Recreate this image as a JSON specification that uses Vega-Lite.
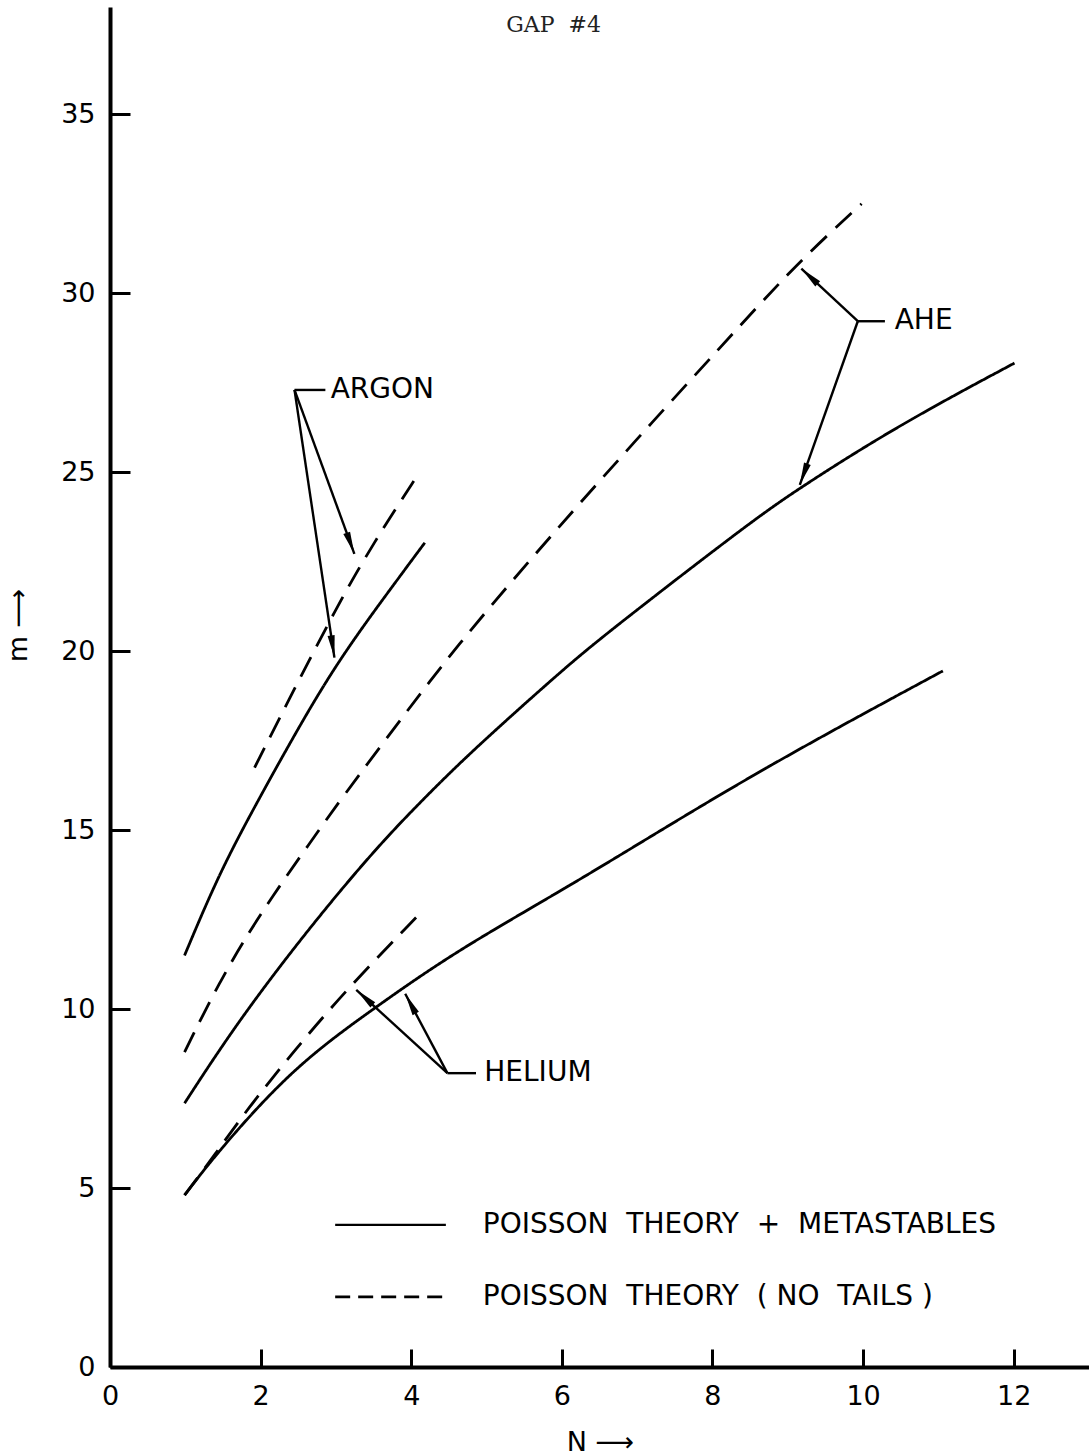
{
  "$schema": "https://vega.github.io/schema/vega-lite/v6.json",
  "width": 979,
  "height": 1360,
  "autosize": {"type": "none"},
  "padding": {"left": 110, "top": 7, "right": 0, "bottom": 89},
  "background": "white",
  "config": {"view": {"stroke": null}, "font": "DejaVu Sans"},
  "datasets": {
    "curves": [
      {"gas": "Argon", "kind": "metastables", "N": 0.99, "m": 11.5},
      {"gas": "Argon", "kind": "metastables", "N": 1.46, "m": 13.85},
      {"gas": "Argon", "kind": "metastables", "N": 1.99, "m": 15.92},
      {"gas": "Argon", "kind": "metastables", "N": 2.34, "m": 17.25},
      {"gas": "Argon", "kind": "metastables", "N": 2.98, "m": 19.6},
      {"gas": "Argon", "kind": "metastables", "N": 3.77, "m": 21.87},
      {"gas": "Argon", "kind": "metastables", "N": 4.18, "m": 23.03},
      {"gas": "Argon", "kind": "notails", "N": 1.92, "m": 16.75},
      {"gas": "Argon", "kind": "notails", "N": 2.34, "m": 18.5},
      {"gas": "Argon", "kind": "notails", "N": 3.0, "m": 21.2},
      {"gas": "Argon", "kind": "notails", "N": 3.49, "m": 23.0},
      {"gas": "Argon", "kind": "notails", "N": 4.11, "m": 25.0},
      {"gas": "AHe", "kind": "notails", "N": 0.99, "m": 8.8},
      {"gas": "AHe", "kind": "notails", "N": 1.46, "m": 10.8},
      {"gas": "AHe", "kind": "notails", "N": 1.99, "m": 12.66},
      {"gas": "AHe", "kind": "notails", "N": 2.69, "m": 14.75},
      {"gas": "AHe", "kind": "notails", "N": 3.05, "m": 15.82},
      {"gas": "AHe", "kind": "notails", "N": 3.93, "m": 18.29},
      {"gas": "AHe", "kind": "notails", "N": 4.59, "m": 20.1},
      {"gas": "AHe", "kind": "notails", "N": 5.56, "m": 22.52},
      {"gas": "AHe", "kind": "notails", "N": 6.93, "m": 25.78},
      {"gas": "AHe", "kind": "notails", "N": 8.48, "m": 29.36},
      {"gas": "AHe", "kind": "notails", "N": 9.18, "m": 30.95},
      {"gas": "AHe", "kind": "notails", "N": 9.98, "m": 32.5},
      {"gas": "AHe", "kind": "metastables", "N": 0.99, "m": 7.37},
      {"gas": "AHe", "kind": "metastables", "N": 1.68, "m": 9.6},
      {"gas": "AHe", "kind": "metastables", "N": 2.6, "m": 12.15},
      {"gas": "AHe", "kind": "metastables", "N": 3.49, "m": 14.4},
      {"gas": "AHe", "kind": "metastables", "N": 4.15, "m": 15.85},
      {"gas": "AHe", "kind": "metastables", "N": 4.81, "m": 17.22},
      {"gas": "AHe", "kind": "metastables", "N": 6.0, "m": 19.46},
      {"gas": "AHe", "kind": "metastables", "N": 6.58, "m": 20.48},
      {"gas": "AHe", "kind": "metastables", "N": 8.48, "m": 23.57},
      {"gas": "AHe", "kind": "metastables", "N": 9.16, "m": 24.57},
      {"gas": "AHe", "kind": "metastables", "N": 10.5, "m": 26.35},
      {"gas": "AHe", "kind": "metastables", "N": 12.01, "m": 28.05},
      {"gas": "Helium", "kind": "metastables", "N": 0.99, "m": 4.8},
      {"gas": "Helium", "kind": "metastables", "N": 1.41, "m": 5.96},
      {"gas": "Helium", "kind": "metastables", "N": 2.43, "m": 8.38},
      {"gas": "Helium", "kind": "metastables", "N": 3.53, "m": 10.06},
      {"gas": "Helium", "kind": "metastables", "N": 4.64, "m": 11.69},
      {"gas": "Helium", "kind": "metastables", "N": 6.31, "m": 13.68},
      {"gas": "Helium", "kind": "metastables", "N": 8.48, "m": 16.52},
      {"gas": "Helium", "kind": "metastables", "N": 11.06, "m": 19.45},
      {"gas": "Helium", "kind": "notails", "N": 0.99, "m": 4.8},
      {"gas": "Helium", "kind": "notails", "N": 1.41, "m": 5.98},
      {"gas": "Helium", "kind": "notails", "N": 1.81, "m": 7.17},
      {"gas": "Helium", "kind": "notails", "N": 2.47, "m": 8.9},
      {"gas": "Helium", "kind": "notails", "N": 3.13, "m": 10.52},
      {"gas": "Helium", "kind": "notails", "N": 4.11, "m": 12.66}
    ],
    "segs": [
      {"N": 2.45, "m": 27.3, "N2": 3.245, "m2": 22.72},
      {"N": 2.45, "m": 27.3, "N2": 2.98, "m2": 19.82},
      {"N": 2.45, "m": 27.3, "N2": 2.86, "m2": 27.3},
      {"N": 9.93, "m": 29.22, "N2": 9.18, "m2": 30.69},
      {"N": 9.93, "m": 29.22, "N2": 9.16, "m2": 24.65},
      {"N": 9.93, "m": 29.22, "N2": 10.29, "m2": 29.22},
      {"N": 4.48, "m": 8.21, "N2": 3.27, "m2": 10.54},
      {"N": 4.48, "m": 8.21, "N2": 3.92, "m2": 10.43},
      {"N": 4.48, "m": 8.21, "N2": 4.86, "m2": 8.21},
      {"N": 2.99, "m": 3.97, "N2": 4.46, "m2": 3.97}
    ],
    "dashseg": [
      {"N": 2.99, "m": 1.96, "N2": 4.46, "m2": 1.96}
    ],
    "heads": [
      {"arrow": "argon1", "N": 3.245, "m": 22.72},
      {"arrow": "argon2", "N": 2.98, "m": 19.82},
      {"arrow": "ahe1", "N": 9.18, "m": 30.69},
      {"arrow": "ahe2", "N": 9.16, "m": 24.65},
      {"arrow": "he1", "N": 3.27, "m": 10.54},
      {"arrow": "he2", "N": 3.92, "m": 10.43}
    ],
    "labels": [
      {"label": "ARGON", "N": 2.93, "m": 27.3},
      {"label": "AHE", "N": 10.42, "m": 29.22},
      {"label": "HELIUM", "N": 4.97, "m": 8.21},
      {"label": "POISSON\u00a0\u00a0THEORY\u00a0\u00a0+\u00a0\u00a0METASTABLES", "N": 4.95, "m": 3.97},
      {"label": "POISSON\u00a0\u00a0THEORY\u00a0\u00a0(\u00a0NO\u00a0\u00a0TAILS\u00a0)", "N": 4.95, "m": 1.96}
    ],
    "title": [
      {"label": "GAP\u00a0\u00a0#4", "N": 5.89, "m": 37.5}
    ]
  },
  "layer": [
    {
      "data": {"name": "curves"},
      "mark": {"type": "line", "color": "black", "strokeWidth": 2.8, "interpolate": "basis"},
      "encoding": {
        "x": {
          "field": "N", "type": "quantitative",
          "scale": {"domain": [0, 13], "nice": false, "zero": false},
          "axis": {
            "values": [0, 2, 4, 6, 8, 10, 12], "format": "d",
            "tickSize": -18, "tickWidth": 3, "tickColor": "black",
            "domainColor": "black", "domainWidth": 4,
            "labelFont": "DejaVu Sans", "labelFontSize": 27, "labelColor": "black",
            "labelPadding": 34, "labelFlush": false, "labelOverlap": false,
            "grid": false,
            "title": "N ⟶", "titleFont": "DejaVu Sans", "titleFontSize": 27,
            "titleFontWeight": "normal", "titleColor": "black",
            "titleX": 490, "titleY": 83, "titleAlign": "center", "titleBaseline": "alphabetic"
          }
        },
        "y": {
          "field": "m", "type": "quantitative",
          "scale": {"domain": [0, 38], "nice": false, "zero": false},
          "axis": {
            "values": [0, 5, 10, 15, 20, 25, 30, 35], "format": "d",
            "tickSize": -20, "tickWidth": 3, "tickColor": "black",
            "domainColor": "black", "domainWidth": 4,
            "labelFont": "DejaVu Sans", "labelFontSize": 27, "labelColor": "black",
            "labelPadding": 35, "labelFlush": false, "labelOverlap": false,
            "grid": false,
            "title": "m ⟶", "titleFont": "DejaVu Sans", "titleFontSize": 27,
            "titleFontWeight": "normal", "titleColor": "black",
            "titleAngle": 270, "titleX": -92, "titleY": 618,
            "titleAlign": "center", "titleBaseline": "middle"
          }
        },
        "detail": {"field": "gas", "type": "nominal"},
        "strokeDash": {
          "field": "kind", "type": "nominal",
          "scale": {"domain": ["metastables", "notails"], "range": [[1, 0], [22, 12]]},
          "legend": null
        }
      }
    },
    {
      "data": {"name": "segs"},
      "mark": {"type": "rule", "color": "black", "strokeWidth": 2.4},
      "encoding": {
        "x": {"field": "N", "type": "quantitative"},
        "y": {"field": "m", "type": "quantitative"},
        "x2": {"field": "N2"},
        "y2": {"field": "m2"}
      }
    },
    {
      "data": {"name": "dashseg"},
      "mark": {"type": "rule", "color": "black", "strokeWidth": 2.6, "strokeDash": [15, 8]},
      "encoding": {
        "x": {"field": "N", "type": "quantitative"},
        "y": {"field": "m", "type": "quantitative"},
        "x2": {"field": "N2"},
        "y2": {"field": "m2"}
      }
    },
    {
      "data": {"name": "heads"},
      "mark": {"type": "point", "shape": "M0,0L-0.16,1L0.16,1Z", "filled": true, "color": "black", "opacity": 1, "size": 2000, "strokeWidth": 0},
      "encoding": {
        "x": {"field": "N", "type": "quantitative"},
        "y": {"field": "m", "type": "quantitative"},
        "angle": {
          "field": "arrow", "type": "nominal",
          "scale": {"type": "ordinal", "domain": ["argon1", "argon2", "ahe1", "ahe2", "he1", "he2"], "range": [159.9, 171.5, 312.9, 199.8, 312.3, 331.9]},
          "legend": null
        }
      }
    },
    {
      "data": {"name": "labels"},
      "mark": {"type": "text", "align": "left", "baseline": "middle", "font": "DejaVu Sans", "fontSize": 28, "color": "black"},
      "encoding": {
        "x": {"field": "N", "type": "quantitative"},
        "y": {"field": "m", "type": "quantitative"},
        "text": {"field": "label", "type": "nominal"}
      }
    },
    {
      "data": {"name": "title"},
      "mark": {"type": "text", "align": "center", "baseline": "middle", "font": "DejaVu Serif", "fontSize": 22, "color": "#222"},
      "encoding": {
        "x": {"field": "N", "type": "quantitative"},
        "y": {"field": "m", "type": "quantitative"},
        "text": {"field": "label", "type": "nominal"}
      }
    }
  ]
}
